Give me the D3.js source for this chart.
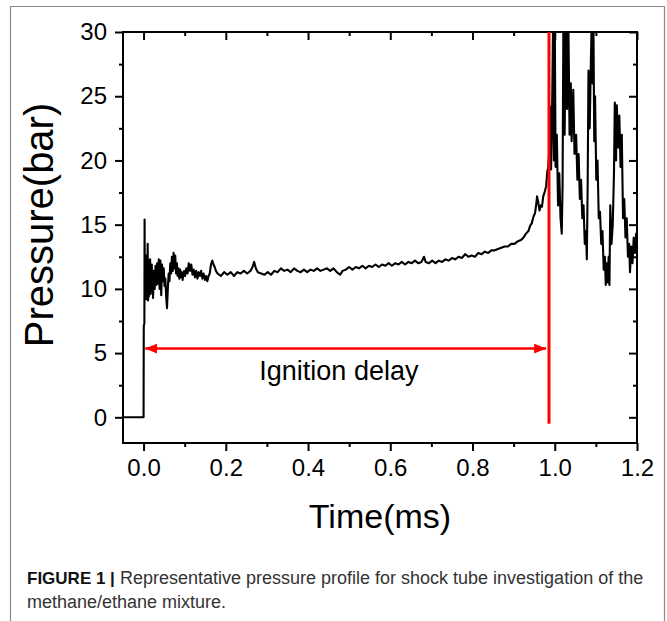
<!DOCTYPE html>
<html>
<head>
<meta charset="utf-8">
<script src="https://cdn.jsdelivr.net/npm/d3@7"></script>
<style>
  body { margin: 0; background: #fff; }
  svg text { font-family: "Liberation Sans", Arial, sans-serif; }
</style>
</head>
<body>
<div id="chart"></div>
<script>
// tick values for both axes
const xTicks = [0.0, 0.2, 0.4, 0.6, 0.8, 1.0, 1.2];
const yTicks = [0, 5, 10, 15, 20, 25, 30];

// ignition marker (ms) and the height of the "Ignition delay" arrow (bar)
const ignitionTime = 0.986;
const arrowPressure = 5.35;

// pressure trace, [time (ms), pressure (bar)]
const preShock = [[-0.05, 0], [0.0, 0]];

const shockFront = [
    [0.0005, 7.1], [0.002, 7.3], [0.0025, 15.4], [0.003, 10.0], [0.004, 12.0],
    [0.005, 9.3], [0.006, 12.6], [0.007, 9.2], [0.008, 11.8], [0.009, 9.6],
    [0.010, 13.5], [0.011, 9.1], [0.012, 12.2], [0.013, 9.4], [0.014, 11.5],
    [0.015, 10.0], [0.016, 12.3], [0.017, 9.6], [0.018, 11.2], [0.019, 9.8],
    [0.020, 11.9], [0.021, 10.2], [0.022, 11.0], [0.023, 9.3], [0.025, 11.4],
    [0.027, 10.0], [0.029, 11.8], [0.031, 10.3], [0.033, 12.0], [0.035, 10.4],
    [0.037, 12.3], [0.039, 10.0], [0.041, 12.2], [0.043, 9.5], [0.045, 11.9],
    [0.047, 10.6], [0.049, 11.6], [0.051, 10.2], [0.053, 10.8], [0.055, 9.4],
    [0.057, 8.5], [0.059, 10.0], [0.061, 11.2], [0.063, 10.6], [0.065, 12.0],
    [0.067, 11.2], [0.069, 12.5], [0.071, 11.4], [0.073, 12.8], [0.075, 11.6],
    [0.077, 12.6], [0.079, 11.2], [0.081, 12.0], [0.083, 11.0], [0.085, 11.6],
    [0.087, 10.8], [0.089, 11.5], [0.091, 10.9], [0.093, 11.3], [0.095, 10.7],
    [0.097, 11.2], [0.099, 11.4], [0.101, 11.0], [0.104, 11.6], [0.107, 11.2],
    [0.110, 12.0], [0.113, 11.4], [0.116, 11.9], [0.119, 11.1], [0.122, 11.5],
    [0.125, 10.9], [0.128, 11.4], [0.131, 10.8], [0.134, 11.3], [0.137, 11.0],
    [0.140, 11.4], [0.143, 10.8], [0.146, 11.2], [0.149, 10.7], [0.152, 11.0],
    [0.155, 10.6], [0.158, 11.0], [0.161, 11.2], [0.164, 11.9], [0.167, 12.2],
    [0.170, 11.9], [0.173, 11.7], [0.176, 11.4]
];

const plateau = [
    [0.180, 11.2], [0.188, 11.0], [0.196, 11.3], [0.204, 11.1], [0.212, 11.3],
    [0.220, 11.0], [0.228, 11.3], [0.236, 11.2], [0.244, 11.4], [0.252, 11.2],
    [0.260, 11.4], [0.265, 11.7], [0.269, 12.1], [0.273, 11.6], [0.278, 11.3],
    [0.286, 11.2], [0.294, 11.1], [0.302, 11.3], [0.310, 11.1], [0.318, 11.4],
    [0.326, 11.3], [0.334, 11.6], [0.342, 11.4], [0.350, 11.5], [0.358, 11.3],
    [0.366, 11.6], [0.374, 11.4], [0.382, 11.3], [0.390, 11.5], [0.398, 11.3],
    [0.406, 11.5], [0.414, 11.4], [0.422, 11.6], [0.430, 11.4], [0.438, 11.5],
    [0.446, 11.6], [0.454, 11.4], [0.462, 11.6], [0.470, 11.3], [0.478, 11.1],
    [0.484, 11.4], [0.492, 11.5], [0.500, 11.7], [0.508, 11.5], [0.516, 11.7],
    [0.524, 11.6], [0.532, 11.8], [0.540, 11.6], [0.548, 11.8], [0.556, 11.7],
    [0.564, 11.9], [0.572, 11.7], [0.580, 11.9], [0.588, 11.8], [0.596, 12.0],
    [0.604, 11.8], [0.612, 12.0], [0.620, 11.9], [0.628, 12.1], [0.636, 11.9],
    [0.644, 12.1], [0.652, 12.0], [0.660, 12.2], [0.668, 12.0], [0.676, 12.1],
    [0.682, 12.5], [0.686, 12.1], [0.694, 12.0], [0.702, 12.2], [0.710, 12.0],
    [0.718, 12.2], [0.726, 12.1], [0.734, 12.3], [0.742, 12.2], [0.750, 12.4],
    [0.758, 12.3], [0.766, 12.5], [0.774, 12.4], [0.782, 12.7], [0.790, 12.5],
    [0.798, 12.6], [0.806, 12.5], [0.814, 12.8], [0.822, 12.7], [0.830, 12.9],
    [0.838, 12.8], [0.846, 13.0], [0.854, 13.0], [0.862, 13.1], [0.870, 13.2],
    [0.878, 13.3], [0.886, 13.3], [0.894, 13.5], [0.902, 13.5], [0.910, 13.7],
    [0.918, 13.8], [0.924, 14.0], [0.930, 14.3], [0.936, 14.5], [0.940, 14.9],
    [0.944, 15.1], [0.948, 15.6], [0.952, 15.9], [0.955, 16.6], [0.957, 17.2],
    [0.960, 16.7], [0.963, 16.1], [0.966, 16.5], [0.969, 16.4], [0.972, 17.2],
    [0.976, 17.6], [0.979, 18.0], [0.982, 19.2], [0.984, 19.4]
];

// after ignition the signal runs off the top of the frame (clipped at 30)
const ignitionBurst = [
    [0.987, 21.0], [0.989, 24.2], [0.991, 19.3], [0.993, 22.5], [0.996, 31],
    [0.998, 20.0], [1.000, 31], [1.002, 19.5], [1.005, 22.0], [1.008, 16.5],
    [1.011, 19.0], [1.014, 15.5], [1.017, 14.3], [1.019, 18.0], [1.021, 31],
    [1.024, 22.0], [1.027, 31], [1.030, 24.0], [1.033, 31], [1.036, 22.0],
    [1.039, 26.0], [1.041, 21.5], [1.045, 25.5], [1.048, 20.5], [1.052, 22.0],
    [1.055, 18.5], [1.058, 20.5], [1.061, 17.0], [1.064, 18.5], [1.067, 15.5],
    [1.070, 16.5], [1.073, 13.5], [1.076, 14.5], [1.078, 12.3], [1.080, 18.0],
    [1.082, 27.0], [1.085, 22.5], [1.088, 28.0], [1.090, 31], [1.092, 26.0],
    [1.094, 31], [1.096, 21.5], [1.098, 25.0], [1.101, 18.5], [1.104, 20.0],
    [1.107, 15.5], [1.110, 16.0], [1.113, 13.5], [1.116, 14.5], [1.119, 11.5],
    [1.122, 12.5], [1.124, 10.3], [1.127, 12.0], [1.129, 10.5], [1.131, 12.5],
    [1.133, 10.3], [1.135, 16.5], [1.138, 13.5], [1.141, 15.0], [1.144, 19.0],
    [1.146, 24.5], [1.149, 20.0], [1.151, 24.3], [1.154, 21.0], [1.157, 23.5],
    [1.160, 19.5], [1.163, 22.0], [1.166, 15.5], [1.169, 17.0], [1.172, 14.0],
    [1.175, 15.5], [1.178, 12.5], [1.181, 13.5], [1.183, 11.3], [1.186, 13.3],
    [1.189, 12.0], [1.192, 14.0], [1.195, 12.8], [1.198, 14.3], [1.200, 13.5]
];

const trace = [].concat(preShock, shockFront, plateau, ignitionBurst);

// set the dimensions and margins of the graph
const width = 667, height = 621;
const margin = { top: 32, right: 30, bottom: 178, left: 123 };
const plot_width = width - margin.left - margin.right;
const plot_height = height - margin.top - margin.bottom;

const svg = d3.select("#chart")
    .append("svg")
    .attr("width", width)
    .attr("height", height);

// frame round figure + caption
svg.append("path")
    .attr("d", "M10.5," + height + "V6.5H664.5V" + height)
    .attr("fill", "none")
    .attr("stroke", "#8a8a8a")
    .attr("stroke-width", 1.2);

const g = svg.append("g")
    .attr("transform", "translate(" + margin.left + "," + margin.top + ")");

const x = d3.scaleLinear().domain([-0.05, 1.2]).range([0, plot_width]);
const y = d3.scaleLinear().domain([-2, 30]).range([plot_height, 0]);

const xMinor = d3.range(0, 13).map(i => i / 10).filter(v => !xTicks.some(t => Math.abs(t - v) < 1e-9));
const yMinor = [2.5, 7.5, 12.5, 17.5, 22.5, 27.5];

// axes: bottom/left outward, top/right inward
function styleAxis(sel) {
    sel.selectAll(".domain").remove();
    sel.selectAll("line").attr("stroke", "#000").attr("stroke-width", 2);
    sel.selectAll("text")
        .attr("fill", "#000")
        .style("font-size", "24px");
}

g.append("g")
    .attr("transform", "translate(0," + plot_height + ")")
    .call(d3.axisBottom(x).tickValues(xTicks).tickSize(8).tickPadding(8).tickFormat(d3.format(".1f")))
    .call(styleAxis);
g.append("g")
    .attr("transform", "translate(0," + plot_height + ")")
    .call(d3.axisBottom(x).tickValues(xMinor).tickSize(4).tickFormat(""))
    .call(styleAxis);
g.append("g")
    .call(d3.axisBottom(x).tickValues(xTicks).tickSize(8).tickFormat(""))
    .call(styleAxis);
g.append("g")
    .call(d3.axisBottom(x).tickValues(xMinor).tickSize(4).tickFormat(""))
    .call(styleAxis);

g.append("g")
    .call(d3.axisLeft(y).tickValues(yTicks).tickSize(8).tickPadding(8))
    .call(styleAxis);
g.append("g")
    .call(d3.axisLeft(y).tickValues(yMinor).tickSize(4).tickFormat(""))
    .call(styleAxis);
g.append("g")
    .attr("transform", "translate(" + plot_width + ",0)")
    .call(d3.axisLeft(y).tickValues(yTicks).tickSize(8).tickFormat(""))
    .call(styleAxis);
g.append("g")
    .attr("transform", "translate(" + plot_width + ",0)")
    .call(d3.axisLeft(y).tickValues(yMinor).tickSize(4).tickFormat(""))
    .call(styleAxis);

// plot frame
g.append("rect")
    .attr("width", plot_width)
    .attr("height", plot_height)
    .attr("fill", "none")
    .attr("stroke", "#000")
    .attr("stroke-width", 2);

// clip the trace to the frame
g.append("clipPath")
    .attr("id", "plot-clip")
    .append("rect")
    .attr("width", plot_width)
    .attr("height", plot_height);

g.append("path")
    .datum(trace)
    .attr("clip-path", "url(#plot-clip)")
    .attr("fill", "none")
    .attr("stroke", "#000")
    .attr("stroke-width", 2.1)
    .attr("stroke-linejoin", "round")
    .attr("d", d3.line().x(d => x(d[0])).y(d => y(d[1])));

// ignition marker
g.append("line")
    .attr("x1", x(ignitionTime)).attr("x2", x(ignitionTime))
    .attr("y1", y(30)).attr("y2", y(-0.5))
    .attr("stroke", "#ff0000")
    .attr("stroke-width", 3);

// double headed arrow for the delay
const defs = svg.append("defs");
defs.append("marker")
    .attr("id", "arrow-head")
    .attr("viewBox", "0 0 12 10")
    .attr("refX", 12).attr("refY", 5)
    .attr("markerWidth", 12).attr("markerHeight", 10)
    .attr("markerUnits", "userSpaceOnUse")
    .attr("orient", "auto-start-reverse")
    .append("path")
    .attr("d", "M0,0L12,5L0,10Z")
    .attr("fill", "#ff0000");

g.append("line")
    .attr("x1", x(0.004)).attr("x2", x(ignitionTime - 0.007))
    .attr("y1", y(arrowPressure)).attr("y2", y(arrowPressure))
    .attr("stroke", "#ff0000")
    .attr("stroke-width", 2.5)
    .attr("marker-start", "url(#arrow-head)")
    .attr("marker-end", "url(#arrow-head)");

g.append("text")
    .attr("x", x(0.475))
    .attr("y", y(arrowPressure) + 31)
    .attr("text-anchor", "middle")
    .style("font-size", "27px")
    .text("Ignition delay");

// axis titles
svg.append("text")
    .attr("x", margin.left + plot_width / 2)
    .attr("y", 528)
    .attr("text-anchor", "middle")
    .style("font-size", "34px")
    .text("Time(ms)");

svg.append("text")
    .attr("transform", "translate(53," + 225 + ") rotate(-90)")
    .attr("text-anchor", "middle")
    .style("font-size", "40px")
    .text("Pressure(bar)");

// caption
const cap1 = svg.append("text")
    .attr("x", 27)
    .attr("y", 584)
    .attr("fill", "#333");
cap1.append("tspan")
    .style("font-weight", "bold")
    .style("font-size", "17px")
    .attr("fill", "#111")
    .text("FIGURE 1 |");
cap1.append("tspan")
    .style("font-size", "18px")
    .text(" Representative pressure profile for shock tube investigation of the");

svg.append("text")
    .attr("x", 27)
    .attr("y", 608)
    .style("font-size", "18px")
    .attr("fill", "#333")
    .text("methane/ethane mixture.");
</script>
</body>
</html>
